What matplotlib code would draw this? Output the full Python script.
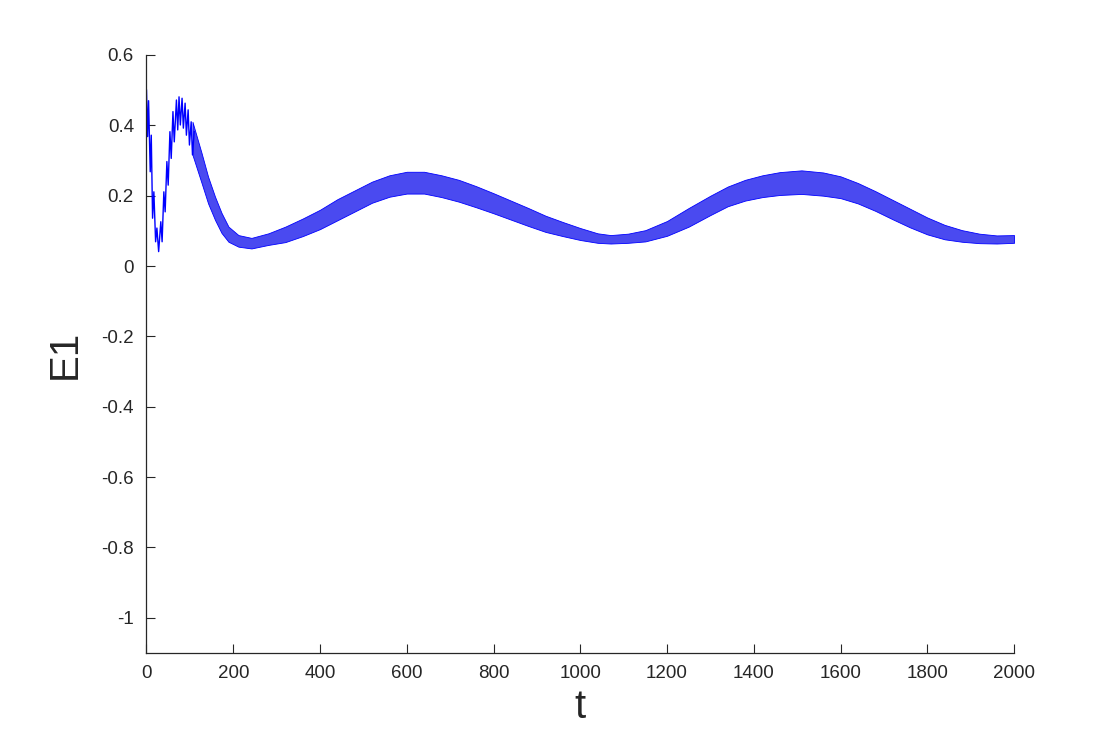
import matplotlib
matplotlib.use('Agg')
import matplotlib.pyplot as plt

# start of the run: single oscillations read one by one (peak / trough)
t_start = [0, 2.5, 4.8, 8.6, 11, 14, 17, 21, 24, 28, 33, 36, 40, 43, 47, 50,
           54, 57, 61, 64, 69, 72, 75, 78, 82, 85, 89, 92, 96, 99, 103, 106,
           110]
e1_start = [0.500, 0.368, 0.470, 0.268, 0.372, 0.136, 0.211, 0.069, 0.108,
            0.041, 0.126, 0.069, 0.211, 0.154, 0.297, 0.230, 0.382, 0.306,
            0.439, 0.353, 0.472, 0.387, 0.481, 0.401, 0.477, 0.392, 0.463,
            0.372, 0.444, 0.344, 0.410, 0.316, 0.382]

# rest of the run: fast oscillation band, upper and lower envelope
t_env = [106, 127, 142, 158, 173, 189, 212, 242, 281, 320, 360, 400, 440,
         480, 520, 560, 600, 640, 680, 720, 760, 800, 840, 880, 920, 960,
         1000, 1040, 1070, 1110, 1150, 1200, 1250, 1300, 1340, 1380, 1420,
         1460, 1510, 1560, 1600, 1640, 1680, 1720, 1760, 1800, 1840, 1880,
         1920, 1960, 2000]
e1_upper = [0.410, 0.321, 0.254, 0.197, 0.151, 0.112, 0.088, 0.080, 0.093,
            0.112, 0.135, 0.160, 0.190, 0.215, 0.240, 0.258, 0.268, 0.268,
            0.258, 0.245, 0.227, 0.207, 0.186, 0.165, 0.143, 0.125, 0.108,
            0.093, 0.088, 0.092, 0.102, 0.128, 0.165, 0.200, 0.226, 0.245,
            0.258, 0.267, 0.272, 0.266, 0.255, 0.236, 0.213, 0.188, 0.163,
            0.138, 0.117, 0.102, 0.092, 0.087, 0.088]
e1_lower = [0.316, 0.236, 0.178, 0.131, 0.094, 0.069, 0.055, 0.050, 0.060,
            0.068, 0.085, 0.105, 0.130, 0.155, 0.180, 0.197, 0.206, 0.206,
            0.196, 0.183, 0.167, 0.150, 0.132, 0.114, 0.097, 0.085, 0.074,
            0.066, 0.064, 0.066, 0.070, 0.086, 0.112, 0.145, 0.170, 0.186,
            0.196, 0.202, 0.205, 0.200, 0.193, 0.178, 0.157, 0.133, 0.110,
            0.090, 0.076, 0.069, 0.065, 0.064, 0.066]

x_ticks = [0, 200, 400, 600, 800, 1000, 1200, 1400, 1600, 1800, 2000]
y_ticks = [-1, -0.8, -0.6, -0.4, -0.2, 0, 0.2, 0.4, 0.6]
y_labels = ['-1', '-0.8', '-0.6', '-0.4', '-0.2', '0', '0.2', '0.4', '0.6']

plt.rcParams['font.family'] = ['Liberation Sans', 'DejaVu Sans']
dark = '#262626'

fig = plt.figure(figsize=(11.2, 7.36), dpi=100)
ax = fig.add_axes([0.1308, 0.1128, 0.7746, 0.8125])

ax.plot(t_start, e1_start, color='#0000ff', linewidth=1.0)
ax.fill_between(t_env, e1_lower, e1_upper, facecolor='#4a4af0',
                edgecolor='#0000ff', linewidth=0.6)

ax.set_xlim(0, 2000)
ax.set_ylim(-1.1, 0.6)
ax.set_xticks(x_ticks)
ax.set_xticklabels([str(v) for v in x_ticks])
ax.set_yticks(y_ticks)
ax.set_yticklabels(y_labels)

for s in ['top', 'right']:
    ax.spines[s].set_visible(False)
for s in ['left', 'bottom']:
    ax.spines[s].set_color(dark)
    ax.spines[s].set_linewidth(0.9)

ax.tick_params(direction='in', length=6.5, width=0.8, colors=dark,
               labelsize=13.5, pad=9)

ax.set_xlabel('t', fontsize=29, color=dark, labelpad=4)
ax.set_ylabel('E1', fontsize=29, color=dark, labelpad=13)

fig.savefig('out.png', dpi=100)
